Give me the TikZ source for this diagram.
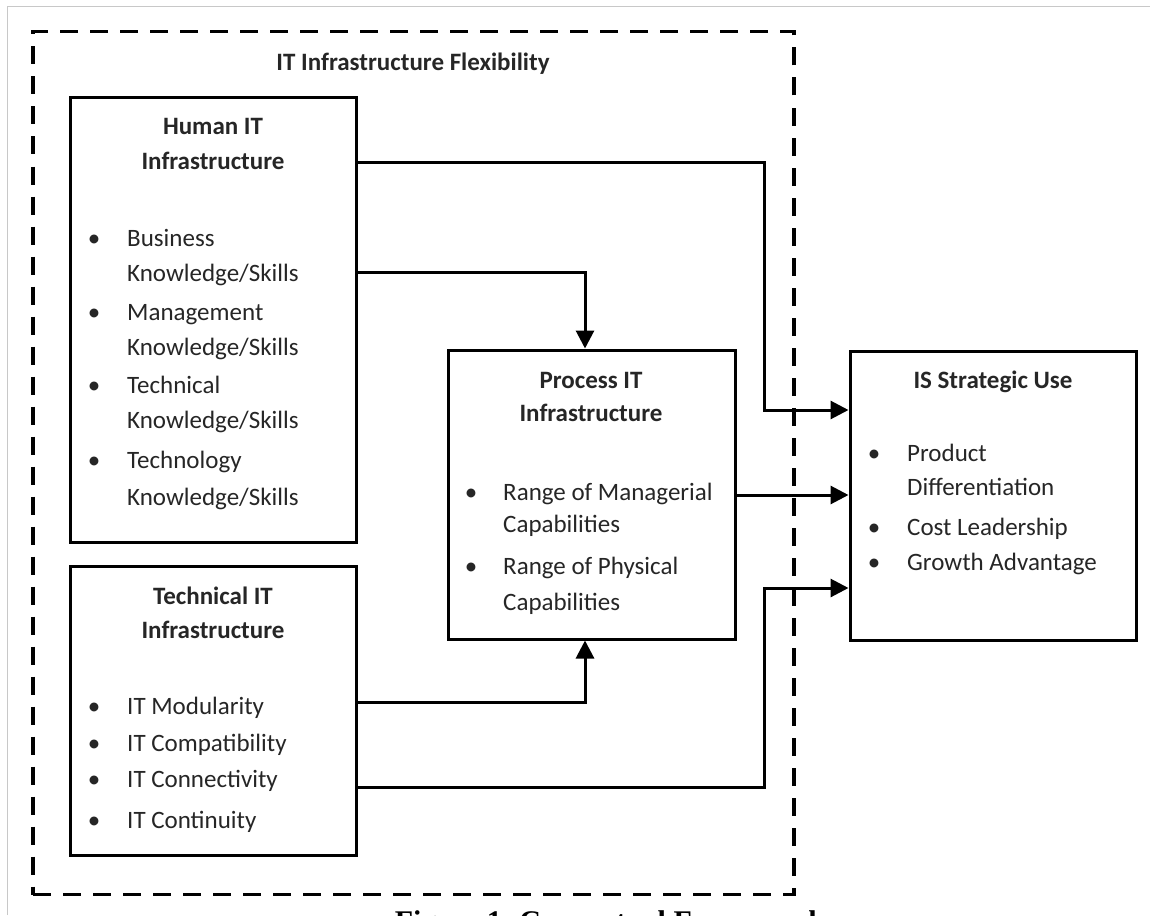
\documentclass[tikz,border=0pt]{standalone}
\usepackage{fontspec}
\setmainfont{Carlito}
\newfontfamily\capfont{Liberation Serif}
\usetikzlibrary{arrows.meta}
\definecolor{txt}{RGB}{38,38,38}
\definecolor{framegray}{RGB}{200,200,200}
\begin{document}
\begin{tikzpicture}[x=1pt,y=-1pt,
  box/.style={draw=black,line width=3pt,inner sep=0pt},
  flexframe/.style={draw=black,line width=3.5pt,dash pattern=on 18pt off 12pt,inner sep=0pt},
  item/.style={anchor=base west,inner sep=0pt,font=\fontsize{25}{30}\selectfont,text=txt},
  ttl/.style={anchor=base,inner sep=0pt,font=\fontsize{25}{30}\selectfont\bfseries,text=txt},
  bul/.style={anchor=base,inner sep=0pt,font=\fontsize{25}{30}\selectfont,text=txt},
  arr/.style={line width=3pt,-{Triangle[length=18pt,width=18pt]}}]
\useasboundingbox (0,0) rectangle (1150,915);
\fill[white] (0,0) rectangle (1150,915);
\draw[framegray,line width=1.5pt] (7.5,915) -- (7.5,6.5) -- (1150,6.5);

% dashed group frame
\node[flexframe,minimum width=761pt,minimum height=863pt] (flex) at (413.5,463) {};
\node[ttl] (flexttl) at (413,71) {IT Infrastructure Flexibility};

% boxes
\node[box,minimum width=286pt,minimum height=444pt] (human) at (213,320) {};
\node[box,minimum width=286pt,minimum height=289pt] (tech) at (213,710.5) {};
\node[box,minimum width=287pt,minimum height=289pt] (proc) at (591.5,494.5) {};
\node[box,minimum width=286pt,minimum height=289pt] (isu) at (993,495.5) {};

% Human IT
\node[ttl] (h1) at (213,135) {Human IT};
\node[ttl] (h2) at (213,169) {Infrastructure};
\node[bul] (hb1) at (94,246) {•};
\node[item] (ht1) at (127,246) {Business};
\node[item] (ht2) at (127,281) {Knowledge/Skills};
\node[bul] (hb2) at (94,320) {•};
\node[item] (ht3) at (127,320) {Management};
\node[item] (ht4) at (127,355) {Knowledge/Skills};
\node[bul] (hb3) at (94,393) {•};
\node[item] (ht5) at (127,393) {Technical};
\node[item] (ht6) at (127,428) {Knowledge/Skills};
\node[bul] (hb4) at (94,468) {•};
\node[item] (ht7) at (127,468) {Technology};
\node[item] (ht8) at (127,505) {Knowledge/Skills};

% Technical IT
\node[ttl] (t1) at (213,604) {Technical IT};
\node[ttl] (t2) at (213,638) {Infrastructure};
\node[bul] (tb1) at (94,714) {•};
\node[item] (tt1) at (127,714) {IT Modularity};
\node[bul] (tb2) at (94,751) {•};
\node[item] (tt2) at (127,751) {IT Compatibility};
\node[bul] (tb3) at (94,787) {•};
\node[item] (tt3) at (127,787) {IT Connectivity};
\node[bul] (tb4) at (94,828) {•};
\node[item] (tt4) at (127,828) {IT Continuity};

% Process IT
\node[ttl] (p1) at (591,388) {Process IT};
\node[ttl] (p2) at (591,421) {Infrastructure};
\node[bul] (pb1) at (471,500) {•};
\node[item] (pt1) at (503,500) {Range of Managerial};
\node[item] (pt2) at (503,532) {Capabilities};
\node[bul] (pb2) at (471,574) {•};
\node[item] (pt3) at (503,574) {Range of Physical};
\node[item] (pt4) at (503,610) {Capabilities};

% IS Strategic Use
\node[ttl] (i1) at (993,388) {IS Strategic Use};
\node[bul] (ib1) at (874,461) {•};
\node[item] (it1) at (907,461) {Product};
\node[item] (it2) at (907,495) {Differentiation};
\node[bul] (ib2) at (874,535) {•};
\node[item] (it3) at (907,535) {Cost Leadership};
\node[bul] (ib3) at (874,570) {•};
\node[item] (it4) at (907,570) {Growth Advantage};

% connectors
\draw[arr] (human.east |- 0,162) -- (764,162) |- (isu.west |- 0,410);
\draw[arr] (human.east |- 0,272) -| (proc.north -| 585,0);
\draw[arr] (proc.east |- 0,495) -- (isu.west |- 0,495);
\draw[arr] (tech.east |- 0,702) -| (proc.south -| 585,0);
\draw[arr] (tech.east |- 0,787) -- (764,787) |- (isu.west |- 0,588);

% caption, cut off by the lower edge as in the reference
\begin{scope}
\clip (0,0) rectangle (1150,915);
\node[anchor=base,inner sep=0pt,font=\capfont\bfseries\fontsize{30}{34}\selectfont] (caption) at (610,931) {Figure 1. Conceptual Framework};
\end{scope}
\end{tikzpicture}
\end{document}
